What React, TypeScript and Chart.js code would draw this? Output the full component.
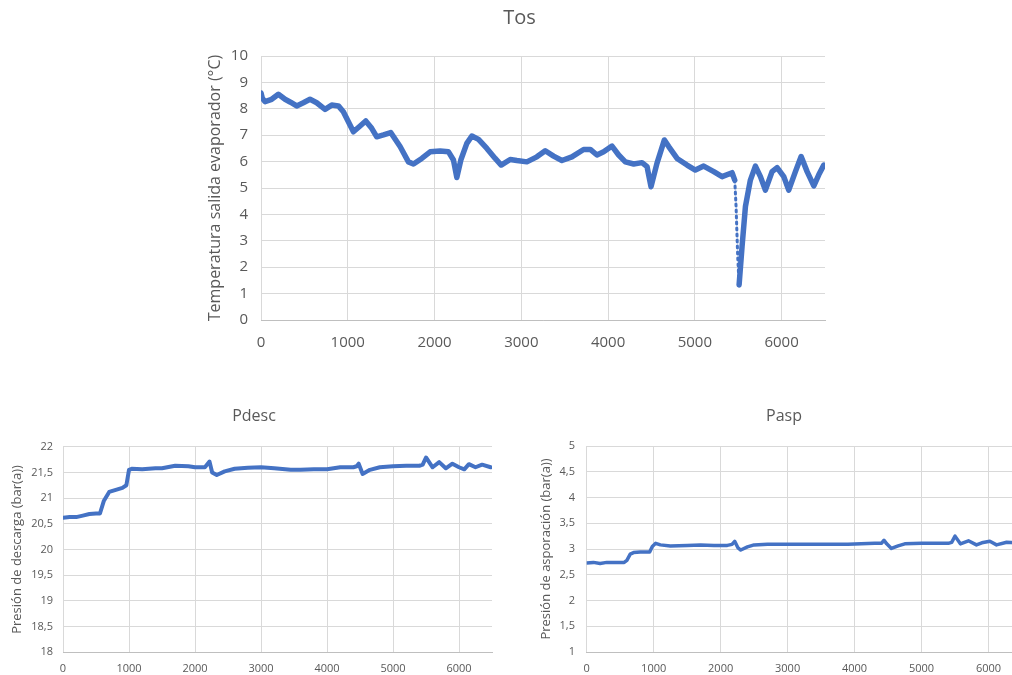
import React, { useEffect, useRef } from "react";
import { Chart, registerables } from "chart.js";

Chart.register(...registerables);

// ---------- Data ----------
const xTickValues = [0, 1000, 2000, 3000, 4000, 5000, 6000];

const tosX = [0, 15, 46, 123, 200, 277, 340, 411, 488, 565, 642, 738, 815, 892, 949, 1065, 1142, 1207, 1276, 1334, 1411, 1495, 1603, 1699, 1757, 1853, 1949, 2064, 2161, 2218, 2257, 2303, 2372, 2430, 2507, 2603, 2699, 2768, 2872, 2949, 3064, 3179, 3276, 3372, 3468, 3583, 3718, 3795, 3872, 3949, 4045, 4122, 4199, 4295, 4391, 4449, 4495, 4564, 4649, 4699, 4795, 4910, 5006, 5102, 5218, 5314, 5429, 5460, 5475, 5494, 5510, 5544, 5583, 5640, 5698, 5756, 5813, 5890, 5948, 6025, 6082, 6159, 6225, 6294, 6371, 6428, 6486];
const tosY = [8.6, 8.4, 8.27, 8.36, 8.55, 8.36, 8.25, 8.11, 8.23, 8.36, 8.23, 7.98, 8.14, 8.11, 7.89, 7.13, 7.35, 7.54, 7.26, 6.94, 7.01, 7.1, 6.57, 5.99, 5.91, 6.12, 6.37, 6.4, 6.37, 6.06, 5.4, 6.06, 6.69, 6.97, 6.84, 6.5, 6.12, 5.87, 6.08, 6.04, 5.99, 6.18, 6.41, 6.21, 6.04, 6.18, 6.46, 6.46, 6.25, 6.37, 6.59, 6.25, 5.99, 5.91, 5.96, 5.81, 5.05, 5.94, 6.82, 6.57, 6.12, 5.87, 5.68, 5.83, 5.62, 5.43, 5.58, 5.3, 4.3, 2.4, 1.33, 2.78, 4.3, 5.3, 5.83, 5.43, 4.92, 5.62, 5.77, 5.43, 4.92, 5.62, 6.19, 5.62, 5.08, 5.5, 5.87];

const pdescX = [0, 100, 200, 300, 400, 500, 560, 620, 700, 800, 900, 960, 1000, 1040, 1200, 1400, 1500, 1700, 1900, 2000, 2150, 2220, 2260, 2330, 2450, 2600, 2800, 3000, 3200, 3450, 3600, 3800, 4000, 4200, 4400, 4450, 4480, 4540, 4650, 4800, 5000, 5200, 5400, 5450, 5500, 5600, 5700, 5800, 5900, 6000, 6080, 6150, 6250, 6350, 6480];
const pdescY = [20.62, 20.63, 20.63, 20.66, 20.69, 20.7, 20.7, 20.95, 21.12, 21.16, 21.2, 21.25, 21.55, 21.57, 21.56, 21.58, 21.58, 21.63, 21.62, 21.6, 21.6, 21.71, 21.5, 21.45, 21.52, 21.57, 21.59, 21.6, 21.58, 21.55, 21.55, 21.56, 21.56, 21.6, 21.6, 21.62, 21.67, 21.47, 21.55, 21.6, 21.62, 21.63, 21.63, 21.65, 21.79, 21.6, 21.7, 21.58, 21.67, 21.6, 21.56, 21.66, 21.6, 21.65, 21.6];

const paspX = [0, 100, 200, 300, 400, 500, 560, 600, 650, 700, 800, 900, 940, 980, 1030, 1100, 1250, 1500, 1700, 1900, 2100, 2170, 2210, 2260, 2300, 2400, 2500, 2700, 3000, 3300, 3600, 3900, 4100, 4300, 4400, 4440, 4480, 4550, 4650, 4750, 5000, 5200, 5400, 5450, 5500, 5580, 5700, 5820, 5900, 6020, 6120, 6270, 6400, 6500];
const paspY = [2.73, 2.74, 2.72, 2.74, 2.74, 2.74, 2.74, 2.78, 2.9, 2.93, 2.94, 2.94, 2.94, 3.05, 3.11, 3.08, 3.06, 3.07, 3.08, 3.07, 3.07, 3.09, 3.15, 3.02, 2.98, 3.04, 3.08, 3.09, 3.09, 3.09, 3.09, 3.09, 3.1, 3.11, 3.11, 3.17, 3.1, 3.01, 3.06, 3.1, 3.11, 3.11, 3.11, 3.13, 3.25, 3.1, 3.16, 3.08, 3.12, 3.15, 3.08, 3.13, 3.12, 3.13];

const titles = ["Tos", "Pdesc", "Pasp"];
const yTitles = [
  "Temperatura salida evaporador (°C)",
  "Presión de descarga (bar(a))",
  "Presión de asporación (bar(a))",
];

const FONT = "'Open Sans', 'DejaVu Sans', sans-serif";
const TEXT = "#595959";
const GRID = "#d9d9d9";
const BLUE = "#4472C4";

type Cfg = {
  left: number; top: number; width: number; height: number;
  xs: number[]; ys: number[];
  title: string; yTitle: string;
  titleSize: number; titlePadTop: number; titlePadBottom: number;
  tickSize: number; yTitleSize: number; yTitlePad: number;
  yMin: number; yMax: number; yStep: number;
  yAxisWidth: number; yTickPad: number;
  xAxisHeight: number; xTickPad: number;
  padRight: number; lineWidth: number; dive?: boolean;
};

function isDive(ctx: any) {
  return ctx.p0.parsed.x >= 5460 && ctx.p1.parsed.x <= 5510;
}

function LineChart(c: Cfg) {
  const ref = useRef<HTMLCanvasElement>(null);
  useEffect(() => {
    if (!ref.current) return;
    const data = c.xs.map((x, i) => ({ x, y: c.ys[i] }));
    const chart = new Chart(ref.current, {
      type: "scatter",
      data: {
        datasets: [
          {
            data,
            showLine: true,
            borderColor: BLUE,
            backgroundColor: BLUE,
            borderWidth: c.lineWidth,
            pointRadius: 0,
            tension: 0,
            borderJoinStyle: "round",
            borderCapStyle: "round",
            yAxisID: "y",
            segment: c.dive
              ? {
                  borderDash: (ctx: any) => (isDive(ctx) ? [2, 4] : undefined),
                  borderWidth: (ctx: any) => (isDive(ctx) ? 3 : undefined),
                }
              : undefined,
          } as any,
        ],
      },
      options: {
        responsive: false,
        animation: false,
        devicePixelRatio: 1,
        layout: { padding: 0 },
        plugins: {
          legend: { display: false },
          tooltip: { enabled: false },
          title: {
            display: true,
            text: c.title,
            color: TEXT,
            font: { family: FONT, size: c.titleSize, weight: "normal" },
            padding: { top: c.titlePadTop, bottom: c.titlePadBottom },
          },
        },
        scales: {
          x: {
            type: "linear",
            min: 0,
            max: 6500,
            afterFit: (s: any) => { s.height = c.xAxisHeight; },
            afterBuildTicks: (s: any) => {
              s.ticks = xTickValues.map((v) => ({ value: v }));
            },
            ticks: {
              autoSkip: false,
              color: TEXT,
              padding: c.xTickPad,
              maxRotation: 0,
              font: { family: FONT, size: c.tickSize },
              callback: (v: any) => String(v),
            },
            grid: { color: GRID, drawTicks: false, lineWidth: 1 },
            border: { display: true, color: "#bfbfbf" },
          },
          y: {
            type: "linear",
            position: "left",
            min: c.yMin,
            max: c.yMax,
            afterFit: (s: any) => { s.width = c.yAxisWidth; },
            ticks: {
              stepSize: c.yStep,
              color: TEXT,
              padding: c.yTickPad,
              font: { family: FONT, size: c.tickSize },
              callback: (v: any) => String(v).replace(".", ","),
            },
            grid: { color: GRID, drawTicks: false, lineWidth: 1 },
            border: { display: false },
            title: {
              display: true,
              text: c.yTitle,
              color: TEXT,
              font: { family: FONT, size: c.yTitleSize },
              padding: { top: c.yTitlePad, bottom: 0 },
            },
          },
          spacer: {
            type: "linear",
            position: "right",
            display: true,
            afterFit: (s: any) => { s.width = c.padRight; },
            ticks: { display: false },
            grid: { display: false, drawTicks: false },
            border: { display: false },
          },
        },
      } as any,
    });
    return () => chart.destroy();
  }, []);
  return (
    <canvas
      ref={ref}
      width={c.width}
      height={c.height}
      style={{ position: "absolute", left: c.left, top: c.top, width: c.width, height: c.height }}
    />
  );
}

export default function App() {
  return (
    <div
      style={{
        position: "absolute",
        left: 0,
        top: 0,
        width: 1012,
        height: 675,
        overflow: "hidden",
        background: "#ffffff",
      }}
    >
      <LineChart
        left={190} top={0} width={659} height={360}
        xs={tosX} ys={tosY}
        title={titles[0]} yTitle={yTitles[0]}
        titleSize={20} titlePadTop={6} titlePadBottom={26}
        tickSize={15} yTitleSize={16} yTitlePad={15.4}
        yMin={0} yMax={10} yStep={1}
        yAxisWidth={71} yTickPad={13}
        xAxisHeight={40} xTickPad={14}
        padRight={24} lineWidth={5.5} dive={true}
      />
      <LineChart
        left={0} top={395} width={508} height={280}
        xs={pdescX} ys={pdescY}
        title={titles[1]} yTitle={yTitles[1]}
        titleSize={16} titlePadTop={11.9} titlePadBottom={20.6}
        tickSize={11} yTitleSize={13} yTitlePad={9.2}
        yMin={18} yMax={22} yStep={0.5}
        yAxisWidth={63} yTickPad={10}
        xAxisHeight={22.7} xTickPad={10}
        padRight={16} lineWidth={4}
      />
      <LineChart
        left={525} top={395} width={518} height={280}
        xs={paspX} ys={paspY}
        title={titles[2]} yTitle={yTitles[2]}
        titleSize={16} titlePadTop={11.9} titlePadBottom={19.9}
        tickSize={11} yTitleSize={13} yTitlePad={13.9}
        yMin={1} yMax={5} yStep={0.5}
        yAxisWidth={61.7} yTickPad={11.7}
        xAxisHeight={23} xTickPad={10}
        padRight={21} lineWidth={3.5}
      />
    </div>
  );
}
